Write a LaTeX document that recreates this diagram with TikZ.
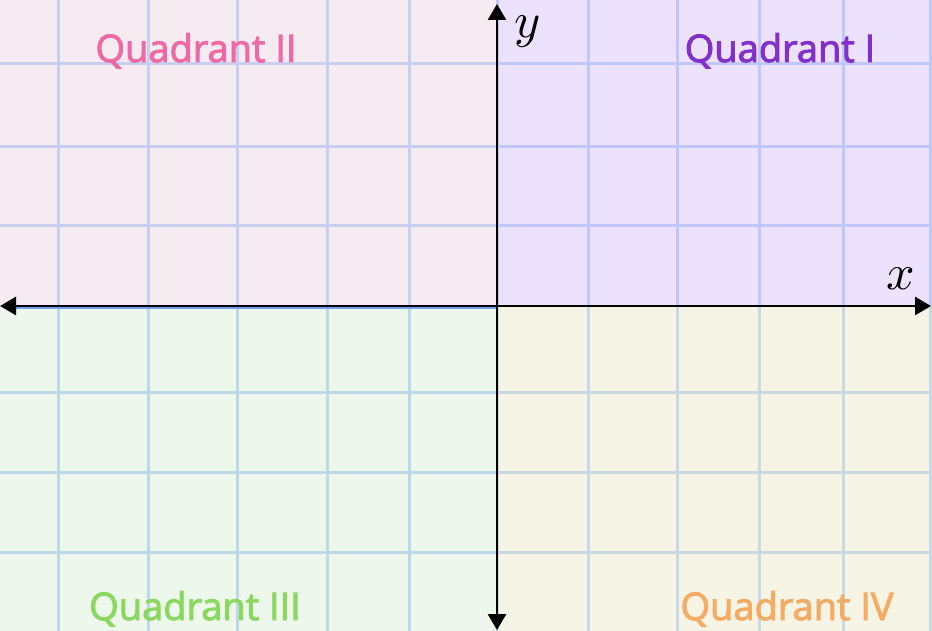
\documentclass[tikz,border=0pt]{standalone}
\usepackage{graphicx}
\usepackage{fontspec}
\setmainfont{Open Sans}[FakeBold=2.5]
\usetikzlibrary{arrows.meta}
\definecolor{bgII}{HTML}{F5EBF1}
\definecolor{bgI}{HTML}{EDE2FD}
\definecolor{bgIII}{HTML}{EDF7EB}
\definecolor{bgIV}{HTML}{F6F4E5}
\definecolor{gridII}{HTML}{C6CFF0}
\definecolor{gridI}{HTML}{C0C8FB}
\definecolor{gridIII}{HTML}{BCD9EB}
\definecolor{gridIV}{HTML}{C8D8E4}
\definecolor{txtI}{HTML}{8330C8}
\definecolor{txtII}{HTML}{EE6AA7}
\definecolor{txtIII}{HTML}{8BD860}
\definecolor{txtIV}{HTML}{F4AB63}
\definecolor{axblue}{HTML}{6FA3EE}
\tikzset{
  gridline/.style={line width=3pt},
  axisline/.style={line width=2.8pt, black, {Triangle[length=16pt,width=18pt]}-{Triangle[length=16pt,width=18pt]}},
  qlabel/.style={anchor=base, inner sep=0pt, font=\fontsize{38}{40}\selectfont},
  axlabel/.style={anchor=base, inner sep=0pt},
}
\begin{document}
\begin{tikzpicture}[x=1pt,y=-1pt]
\useasboundingbox (0,0) rectangle (932,631);
% backgrounds
\fill[bgII] (0,0) rectangle (497,306);
\fill[bgI] (497,0) rectangle (932,306);
\fill[bgIII] (0,306) rectangle (497,631);
\fill[bgIV] (497,306) rectangle (932,631);
% grid lines
\foreach \gx in {58,148,237,327,409} {
  \draw[gridline, gridII] (\gx,0) -- (\gx,306);
  \draw[gridline, gridIII] (\gx,306) -- (\gx,631);
}
\foreach \gx in {497,588,677,759,843,930} {
  \draw[gridline, gridI] (\gx,0) -- (\gx,306);
  \draw[gridline, gridIV] (\gx,306) -- (\gx,631);
}
\foreach \gy in {64,147,226} {
  \draw[gridline, gridII] (0,\gy) -- (497,\gy);
  \draw[gridline, gridI] (497,\gy) -- (932,\gy);
}
\foreach \gy in {392,472,552} {
  \draw[gridline, gridIII] (0,\gy) -- (497,\gy);
  \draw[gridline, gridIV] (497,\gy) -- (932,\gy);
}
\draw[line width=1.2pt, axblue] (14,308) -- (497,308);
% axes
\coordinate (xl) at (0,306);
\coordinate (xr) at (931,306);
\coordinate (yt) at (497,4);
\coordinate (yb) at (497,630);
\draw[axisline] (xl) -- (xr);
\draw[axisline] (yb) -- (yt);
% labels
\node[axlabel] (ylab) at (528,38) {\scalebox{5}{$y$}};
\node[axlabel] (xlab) at (901,289) {\scalebox{5}{$x$}};
\node[qlabel, text=txtII] (q2) at (196,62) {Quadrant II};
\node[qlabel, text=txtI] (q1) at (780,62) {Quadrant I};
\node[qlabel, text=txtIII] (q3) at (195,620) {Quadrant III};
\node[qlabel, text=txtIV] (q4) at (787,620) {Quadrant IV};
\end{tikzpicture}
\end{document}
